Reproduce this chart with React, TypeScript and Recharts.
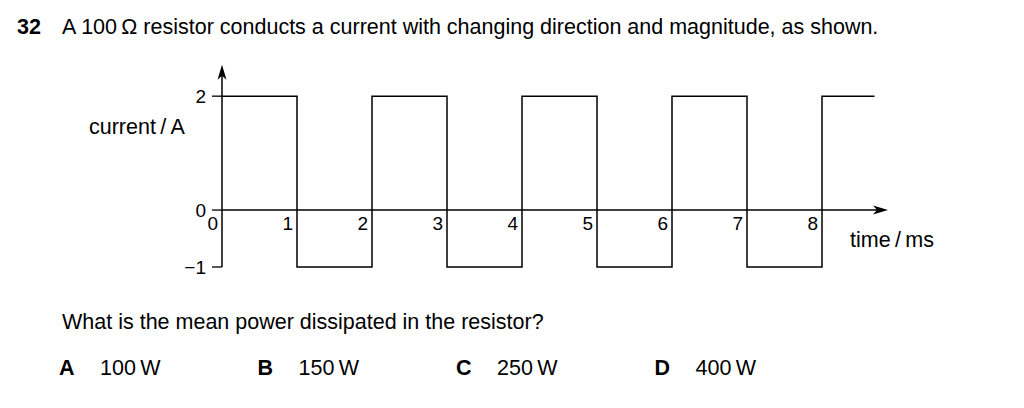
import { LineChart, Line, XAxis, YAxis, ReferenceLine } from 'recharts';

// time (ms) at each level change, and the current (A) from that time on
const times = [0, 1, 2, 3, 4, 5, 6, 7, 8, 8.7];
const currents = [2, -1, 2, -1, 2, -1, 2, -1, 2, 2];
const xTicks = [0, 1, 2, 3, 4, 5, 6, 7, 8];
const yTicks = [-1, 0, 2];
const options = [
  { letter: 'A', text: '100\u2009W' },
  { letter: 'B', text: '150\u2009W' },
  { letter: 'C', text: '250\u2009W' },
  { letter: 'D', text: '400\u2009W' },
];

const data = times.map((t, i) => ({ t, i: currents[i] }));

const FONT = '"Liberation Sans", Arial, sans-serif';

// axis line with an arrow head at its far end
const ArrowLine = (props: any) => {
  const { x1, y1, x2, y2 } = props;
  const dx = x2 - x1;
  const dy = y2 - y1;
  const len = Math.sqrt(dx * dx + dy * dy) || 1;
  const ux = dx / len;
  const uy = dy / len;
  const L = 15;
  const W = 4.5;
  const bx = x2 - ux * L;
  const by = y2 - uy * L;
  const pts = `${x2},${y2} ${bx - uy * W},${by + ux * W} ${bx + ux * 4},${by + uy * 4} ${bx + uy * W},${by - ux * W}`;
  return (
    <g>
      <line x1={x1} y1={y1} x2={bx + ux * 4} y2={by + uy * 4} stroke="#000" strokeWidth={1.5} />
      <polygon points={pts} fill="#000" />
    </g>
  );
};

const txt: React.CSSProperties = {
  position: 'absolute',
  fontFamily: FONT,
  fontSize: 21.5,
  color: '#000',
  whiteSpace: 'nowrap',
  lineHeight: '24px',
};

export default function App() {
  return (
    <div style={{ position: 'absolute', left: 0, top: 0, width: 1024, height: 408, background: '#fff' }}>
      <div style={{ ...txt, left: 17, top: 15 }}>
        <b>32</b>
      </div>
      <div style={{ ...txt, left: 62, top: 15 }}>
        A 100{'\u2009'}Ω resistor conducts a current with changing direction and magnitude, as shown.
      </div>
      <div style={{ ...txt, left: 89, top: 115 }}>current{'\u2009'}/{'\u2009'}A</div>
      <div style={{ ...txt, left: 850, top: 228 }}>time{'\u2009'}/{'\u2009'}ms</div>
      <div style={{ ...txt, left: 62, top: 310 }}>What is the mean power dissipated in the resistor?</div>
      {options.map((o, k) => (
        <div key={o.letter} style={{ ...txt, left: 59 + k * 198.5, top: 356 }}>
          <b>{o.letter}</b>
          <span style={{ position: 'absolute', left: 41 }}>{o.text}</span>
        </div>
      ))}
      <div style={{ position: 'absolute', left: 0, top: 0 }}>
        <LineChart width={1024} height={408} data={data} margin={{ top: 62, right: 134.5, bottom: 141, left: 162 }}>
          <XAxis
            dataKey="t"
            type="number"
            domain={[0, 8.9]}
            ticks={xTicks}
            axisLine={false}
            tickLine={false}
            hide
          />
          <YAxis
            type="number"
            domain={[-1, 2.6]}
            ticks={yTicks}
            width={60}
            axisLine={false}
            tickLine={{ stroke: '#000', strokeWidth: 1.3 }}
            tickSize={10}
            tickMargin={6}
            tick={{ fill: '#000', fontSize: 19, fontFamily: FONT }}
            tickFormatter={(v: number) => (v < 0 ? `\u2212${-v}` : `${v}`)}
            interval={0}
          />
          <ReferenceLine segment={[{ x: 0, y: -1 }, { x: 0, y: 2.55 }]} shape={<ArrowLine />} />
          <ReferenceLine segment={[{ x: 0, y: 0 }, { x: 8.88, y: 0 }]} shape={<ArrowLine />} />
          <Line
            dataKey="i"
            type="stepAfter"
            stroke="#000"
            strokeWidth={1.5}
            dot={false}
            isAnimationActive={false}
          />
          {xTicks.map((t) => (
            <ReferenceLine
              key={t}
              x={t}
              stroke="none"
              label={(p: any) => (
                <text
                  x={p.viewBox.x - 4}
                  y={230}
                  textAnchor="end"
                  fontSize={19}
                  fontFamily={FONT}
                  fill="#000"
                >
                  {t}
                </text>
              )}
            />
          ))}
        </LineChart>
      </div>
    </div>
  );
}
